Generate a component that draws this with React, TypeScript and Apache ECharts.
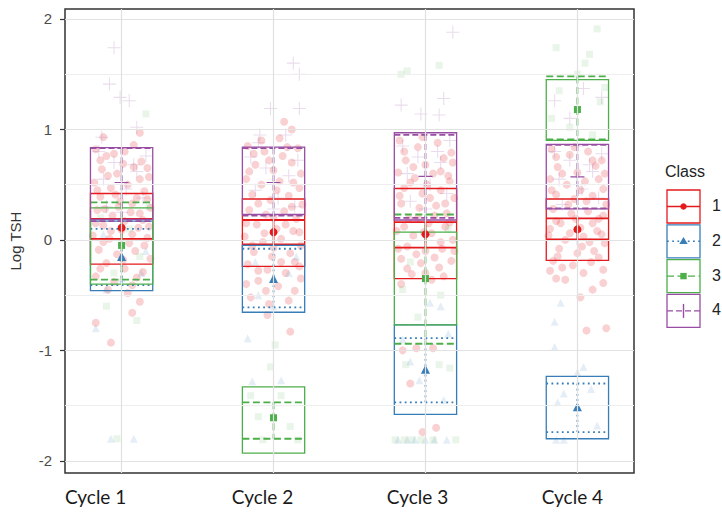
import React, { useEffect, useRef } from "react";
import * as echarts from "echarts";

// ---------- data ----------
const cycles = ["Cycle 1", "Cycle 2", "Cycle 3", "Cycle 4"];
const cyclePos = [1, 2, 3, 4];
const classNames = ["1", "2", "3", "4"];
const yTicks = [-2, -1, 0, 1, 2];
const yMinorGrid = [-1.5, -0.5, 0.5, 1.5];

// mean (marker), box (solid rect) and inner bar (class line type), per cycle
const class1Mean = [0.11, 0.07, 0.05, 0.095];
const class1BoxLo = [-0.22, -0.24, -0.35, -0.185];
const class1BoxHi = [0.42, 0.37, 0.465, 0.37];
const class1BarLo = [0.01, -0.04, -0.07, 0.005];
const class1BarHi = [0.19, 0.18, 0.16, 0.195];

const class2Mean = [-0.15, -0.35, -1.17, -1.51];
const class2BoxLo = [-0.46, -0.655, -1.58, -1.8];
const class2BoxHi = [0.17, -0.05, -0.77, -1.235];
const class2BarLo = [-0.41, -0.61, -1.47, -1.74];
const class2BarHi = [0.1, -0.08, -0.89, -1.3];

const class3Mean = [-0.05, -1.61, -0.35, 1.18];
const class3BoxLo = [-0.4, -1.93, -0.77, 0.9];
const class3BoxHi = [0.29, -1.33, 0.07, 1.45];
const class3BarLo = [-0.36, -1.8, -0.94, 0.91];
const class3BarHi = [0.34, -1.47, 0.23, 1.48];

const class4Mean = [0.52, 0.52, 0.575, 0.57];
const class4BoxLo = [0.186, 0.23, 0.18, 0.28];
const class4BoxHi = [0.836, 0.84, 0.97, 0.865];
const class4BarLo = [0.17, 0.22, 0.2, 0.285];
const class4BarHi = [0.83, 0.83, 0.95, 0.86];

// jittered individual observations [x, logTSH]
const class1Points = [
  [0.83,0.82],[0.9,0.76],[1.02,0.8],[1.13,0.71],[0.87,0.64],[0.97,0.6],[1.08,0.66],[1.18,0.57],[0.82,0.52],[0.93,0.47],[1.04,0.5],[1.15,0.44],[0.86,0.39],[0.99,0.35],[1.1,0.38],[1.19,0.29],[0.84,0.27],[0.94,0.22],[1.06,0.25],[1.14,0.18],[0.88,0.13],[1.0,0.09],[1.11,0.11],[0.81,0.04],[0.92,0.01],[1.05,-0.03],[1.17,0.02],[0.85,-0.09],[0.97,-0.13],[1.09,-0.1],[1.19,-0.17],[0.9,-0.21],[1.02,-0.26],[1.14,-0.29],[0.83,-0.33],[0.95,-0.38],[1.07,-0.41],[0.88,0.93],[1.12,0.97],[0.83,-0.75],[0.93,-0.93],[1.07,-0.66],[1.12,-0.56],[1.04,-0.48],
  [0.86,0.72],[0.95,0.78],[1.08,0.86],[1.17,0.65],[0.91,0.58],[1.01,0.69],[1.12,0.55],[0.84,0.45],[0.96,0.41],[1.07,0.33],[1.17,0.37],[0.89,0.28],[1.02,0.17],[1.12,0.24],[0.83,0.15],[0.93,0.08],[1.07,0.05],[1.15,-0.05],[0.88,-0.02],[1.01,-0.18],[1.1,-0.34],[0.86,-0.26],[0.98,0.3],[1.18,0.12],[0.91,-0.45],
  [1.83,0.85],[1.94,0.8],[2.06,0.76],[2.16,0.83],[1.88,0.68],[2.0,0.63],[2.12,0.7],[1.82,0.55],[1.92,0.5],[2.04,0.53],[2.17,0.47],[1.86,0.41],[1.98,0.36],[2.1,0.4],[2.19,0.32],[1.84,0.27],[1.95,0.23],[2.07,0.26],[2.15,0.19],[1.89,0.14],[2.02,0.1],[2.13,0.08],[1.81,0.03],[1.93,-0.02],[2.05,0.01],[2.18,-0.05],[1.87,-0.11],[1.99,-0.15],[2.11,-0.12],[1.83,-0.22],[1.96,-0.27],[2.08,-0.3],[2.17,-0.24],[1.9,-0.37],[2.03,-0.42],[2.14,-0.46],[1.85,-0.52],[1.97,-0.58],[2.07,1.07],[1.96,-0.68],[2.11,-0.83],[2.12,1.0],
  [1.87,0.78],[1.97,0.72],[2.09,0.84],[2.18,0.6],[1.84,0.62],[2.02,0.45],[2.13,0.52],[1.9,0.33],[2.0,0.2],[2.12,0.3],[1.82,0.15],[1.94,0.06],[2.08,0.14],[2.17,0.07],[1.86,-0.05],[2.0,-0.07],[2.14,-0.2],[1.9,-0.28],[2.05,-0.2],[1.82,-0.4],[1.95,-0.46],[2.1,-0.55],[2.18,-0.35],[2.04,0.92],[1.92,0.9],
  [2.83,0.9],[2.95,0.84],[3.08,0.88],[3.17,0.79],[2.87,0.72],[3.0,0.68],[3.12,0.74],[2.82,0.61],[2.93,0.56],[3.05,0.6],[3.16,0.53],[2.86,0.47],[2.98,0.42],[3.1,0.45],[3.19,0.38],[2.84,0.33],[2.96,0.29],[3.07,0.31],[3.14,0.24],[2.89,0.19],[3.02,0.15],[3.13,0.12],[2.81,0.08],[2.92,0.04],[3.04,0.06],[3.18,0.0],[2.88,-0.06],[3.0,-0.1],[3.11,-0.08],[2.84,-0.17],[2.97,-0.21],[3.09,-0.25],[3.17,-0.19],[2.91,-0.31],[3.04,-0.36],[2.85,-1.0],[2.94,-0.98],[3.05,-0.98],[2.9,-1.3],[2.98,-1.74],[3.07,-1.7],
  [2.86,0.8],[2.98,0.93],[3.1,0.62],[3.18,0.7],[2.9,0.52],[3.01,0.5],[3.13,0.33],[2.83,0.4],[2.95,0.2],[3.06,0.22],[3.16,0.16],[2.86,0.12],[2.99,0.07],[3.1,-0.02],[2.82,-0.08],[2.94,-0.13],[3.06,-0.16],[3.19,-0.1],[2.88,-0.26],[3.0,-0.3],[3.12,-0.33],[2.84,-0.4],[3.15,0.58],[2.92,0.66],[3.03,0.38],
  [3.83,0.82],[3.95,0.77],[4.07,0.8],[4.16,0.72],[3.87,0.66],[4.0,0.61],[4.12,0.67],[3.82,0.55],[3.93,0.5],[4.05,0.53],[4.17,0.46],[3.86,0.41],[3.98,0.37],[4.1,0.4],[4.19,0.32],[3.84,0.28],[3.96,0.24],[4.07,0.26],[4.14,0.19],[3.89,0.15],[4.02,0.11],[4.13,0.08],[3.81,0.04],[3.92,0.0],[4.04,0.03],[4.18,-0.03],[3.88,-0.08],[4.0,-0.12],[4.11,-0.1],[3.84,-0.19],[3.97,-0.23],[4.09,-0.2],[4.17,-0.27],[3.82,-0.28],[3.92,-0.36],[4.02,-0.52],[4.17,-0.39],[4.06,-0.82],[4.19,-0.8],
  [3.86,0.75],[3.98,0.84],[4.1,0.72],[4.18,0.6],[3.9,0.6],[4.02,0.45],[4.14,0.55],[3.83,0.45],[3.94,0.32],[4.06,0.35],[4.17,0.22],[3.86,0.17],[3.99,0.19],[4.1,0.15],[3.82,0.1],[3.95,0.06],[4.08,-0.02],[4.16,0.05],[3.87,-0.15],[4.03,-0.06],[4.14,-0.16],[3.9,-0.25],[4.04,-0.3],[3.86,-0.35],[4.1,-0.45]
];
const class2Points = [
  [0.93,-1.8],[1.08,-1.8],[0.83,-0.8],[1.13,-0.3],[0.88,0.05],[1.0,-0.35],[0.9,-0.45],[1.16,-0.1],
  [1.83,-0.89],[1.86,-1.28],[2.05,-1.27],[1.9,-0.5],[2.1,-0.3],[2.0,-0.6],[2.15,-0.15],[1.88,-0.2],
  [2.82,-1.81],[2.88,-1.81],[2.93,-1.81],[3.0,-1.81],[3.06,-1.81],[3.14,-1.81],[2.96,-1.27],[3.15,-0.85],[3.03,-0.57],[3.1,-0.6],[2.85,-0.9],[3.12,-1.45],[2.9,-1.1],
  [3.89,-0.57],[3.85,-0.74],[3.85,-0.97],[4.04,-1.15],[3.87,-1.47],[4.13,-1.68],[3.91,-1.39],[4.09,-1.35],[3.86,-1.81],[3.91,-1.81],[4.0,-1.2]
];
const class3Points = [
  [1.16,1.14],[1.1,-0.73],[0.97,-1.8],[0.86,0.2],[1.12,-0.15],[0.95,-0.3],[1.05,0.1],[0.9,-0.6],[1.18,0.3],
  [2.01,-0.95],[1.98,-1.15],[1.85,-1.41],[2.05,-1.41],[2.11,-1.69],[1.93,-1.81],[2.16,-1.81],[1.9,-1.6],
  [2.88,1.53],[3.09,1.58],[2.84,1.5],[2.87,-1.13],[3.09,-1.13],[3.16,-1.16],[2.8,-1.81],[2.86,-1.81],[2.91,-1.81],[2.97,-1.81],[3.05,-1.81],[3.2,-1.81],[2.9,-0.2],[3.1,-0.5],[2.95,-0.7],[3.15,0.1],[2.85,-0.45],
  [4.13,1.91],[3.86,1.74],[4.08,1.68],[4.05,1.6],[3.88,1.35],[4.15,1.25],[3.95,1.02],[4.1,0.95],[4.18,1.38],[3.83,1.1],[4.0,1.5]
];
const class4Points = [
  [0.95,1.74],[0.92,1.41],[0.99,1.29],[1.05,1.26],[0.87,0.93],[1.1,1.02],[0.85,0.8],[0.95,0.7],[1.1,0.62],[1.16,0.76],[0.88,0.55],[1.03,0.46],[1.14,0.38],[0.9,0.3],[1.0,0.25],[1.08,0.68],
  [2.13,1.6],[2.17,1.5],[1.98,1.19],[2.17,1.19],[1.91,0.95],[2.08,0.95],[1.85,0.75],[1.95,0.65],[2.1,0.58],[2.16,0.72],[1.88,0.45],[2.03,0.38],[2.14,0.3],[1.9,0.88],[2.0,0.28],
  [3.18,1.88],[2.84,1.22],[2.97,1.14],[3.09,1.13],[3.12,1.28],[2.85,0.85],[2.95,0.75],[3.1,0.7],[3.16,0.9],[2.88,0.6],[3.03,0.5],[3.14,0.42],[2.9,0.35],[3.0,0.28],[3.08,0.8],
  [3.85,1.26],[4.04,1.37],[4.16,1.29],[3.95,1.1],[3.85,0.8],[3.95,0.72],[4.1,0.62],[4.16,0.78],[3.88,0.55],[4.03,0.46],[4.14,0.38],[3.9,0.32],[4.0,0.85],[4.08,0.68]
];

// ---------- styling ----------
const COLORS = ["#E41A1C", "#377EB8", "#4DAF4A", "#984EA3"];
const DASHES: (number[] | null)[] = [null, [1.8, 3.4], [7, 3.5], [6, 3]];
const CROSS = "path://M-0.08,-1 L0.08,-1 L0.08,-0.08 L1,-0.08 L1,0.08 L0.08,0.08 L0.08,1 L-0.08,1 L-0.08,0.08 L-1,0.08 L-1,-0.08 L-0.08,-0.08 Z";
const SYMBOLS = ["circle", "triangle", "rect", CROSS];
const MEAN_SIZES = [8, 9, 7, 14];
const PT_SIZES = [8, 8, 7, 13];
const PT_OPACITY = [0.2, 0.13, 0.13, 0.2];
const BOX_HALF = 0.205;

const means = [class1Mean, class2Mean, class3Mean, class4Mean];
const boxLo = [class1BoxLo, class2BoxLo, class3BoxLo, class4BoxLo];
const boxHi = [class1BoxHi, class2BoxHi, class3BoxHi, class4BoxHi];
const barLo = [class1BarLo, class2BarLo, class3BarLo, class4BarLo];
const barHi = [class1BarHi, class2BarHi, class3BarHi, class4BarHi];
const points = [class1Points, class2Points, class3Points, class4Points];

const LABEL_SHIFT = [52, 22, 16, 10];

function legendGraphics() {
  const els: any[] = [
    { type: "text", left: 665, top: 163, style: { text: "Class", fontSize: 16, fontFamily: "Liberation Sans", fill: "#222" } },
  ];
  classNames.forEach((name, k) => {
    const x = 667, w = 33, h = 33;
    const y = 190 + k * 34.8;
    const cy = y + h / 2, cx = x + w / 2;
    const c = COLORS[k];
    els.push({ type: "rect", shape: { x, y, width: w, height: h }, style: { fill: "none", stroke: c, lineWidth: 1.3 } });
    els.push({ type: "line", shape: { x1: x, y1: cy, x2: x + w, y2: cy }, style: { stroke: c, lineWidth: 1.4, lineDash: DASHES[k] || undefined } });
    if (k === 0) els.push({ type: "circle", shape: { cx, cy, r: 3.2 }, style: { fill: c } });
    if (k === 1) els.push({ type: "polygon", shape: { points: [[cx, cy - 4.2], [cx + 4.2, cy + 2.8], [cx - 4.2, cy + 2.8]] }, style: { fill: c } });
    if (k === 2) els.push({ type: "rect", shape: { x: cx - 3.2, y: cy - 3.2, width: 6.4, height: 6.4 }, style: { fill: c } });
    if (k === 3) els.push({ type: "line", shape: { x1: cx, y1: cy - 7, x2: cx, y2: cy + 7 }, style: { stroke: c, lineWidth: 1.4 } });
    els.push({ type: "text", left: 712, top: cy - 9, style: { text: name, fontSize: 16, fontFamily: "Liberation Sans", fill: "#222" } });
  });
  return els;
}

export default function App() {
  const ref = useRef<HTMLDivElement>(null);
  useEffect(() => {
    if (!ref.current) return;
    const chart = echarts.init(ref.current, null, { renderer: "svg" });
    const series: any[] = [];
    // grid lines
    series.push({
      type: "scatter",
      data: [],
      z: 0,
      silent: true,
      markLine: {
        silent: true,
        symbol: ["none", "none"],
        label: { show: false },
        animation: false,
        data: [
          ...yMinorGrid.map((v) => ({ yAxis: v, lineStyle: { color: "#eeeeee", width: 1, type: "solid" } })),
          ...yTicks.map((v) => ({ yAxis: v, lineStyle: { color: "#e2e2e2", width: 1.2, type: "solid" } })),
          ...cyclePos.map((v) => ({ xAxis: v, lineStyle: { color: "#e0e0e0", width: 1.2, type: "solid" } })),
        ],
      },
    });
    // jittered points
    points.forEach((pts, k) => {
      series.push({
        type: "scatter",
        name: classNames[k],
        z: 2,
        silent: true,
        symbol: SYMBOLS[k],
        symbolSize: PT_SIZES[k],
        itemStyle: { color: COLORS[k], opacity: PT_OPACITY[k] },
        data: pts,
      });
    });
    // boxes + bars
    means.forEach((m, k) => {
      series.push({
        type: "custom",
        z: 3,
        silent: true,
        renderItem: (params: any, api: any) => {
          const x = api.value(0);
          const tl = api.coord([x - BOX_HALF, api.value(3)]);
          const br = api.coord([x + BOX_HALF, api.value(2)]);
          const eTop = api.coord([x, api.value(5)]);
          const eBot = api.coord([x, api.value(4)]);
          const boxStyle = { stroke: COLORS[k], fill: "none", lineWidth: 1.3 };
          const barStyle: any = { stroke: COLORS[k], fill: "none", lineWidth: 1.8 };
          if (DASHES[k]) barStyle.lineDash = DASHES[k];
          return {
            type: "group",
            children: [
              { type: "rect", shape: { x: tl[0], y: tl[1], width: br[0] - tl[0], height: br[1] - tl[1] }, style: boxStyle },
              { type: "line", shape: { x1: tl[0], y1: eTop[1], x2: br[0], y2: eTop[1] }, style: barStyle },
              { type: "line", shape: { x1: tl[0], y1: eBot[1], x2: br[0], y2: eBot[1] }, style: barStyle },
              { type: "line", shape: { x1: eTop[0], y1: eTop[1], x2: eBot[0], y2: eBot[1] }, style: barStyle },
            ],
          };
        },
        encode: { x: 0, y: [1, 2, 3, 4, 5] },
        data: cyclePos.map((p, i) => [p, m[i], boxLo[k][i], boxHi[k][i], barLo[k][i], barHi[k][i]]),
      });
    });
    // mean markers
    means.forEach((m, k) => {
      series.push({
        type: "scatter",
        z: 4,
        silent: true,
        symbol: SYMBOLS[k],
        symbolSize: MEAN_SIZES[k],
        itemStyle: { color: COLORS[k], opacity: 1 },
        data: cyclePos.map((p, i) => [p, m[i]]),
      });
    });

    chart.setOption({
      animation: false,
      backgroundColor: "#ffffff",
      grid: { left: 64, top: 9, width: 570, height: 464, show: true, borderColor: "#333", borderWidth: 1.5, backgroundColor: "#fff" },
      xAxis: {
        type: "value",
        min: 0.6275,
        max: 4.3725,
        axisLine: { show: false },
        splitLine: { show: false },
        axisTick: { show: true, customValues: cyclePos, length: 5, lineStyle: { color: "#333", width: 1.2 } },
        axisLabel: {
          customValues: cyclePos,
          margin: 14,
          formatter: (v: number) => {
            const i = cyclePos.indexOf(Math.round(v));
            return i < 0 ? "" : `{c${i}|${cycles[i]}}`;
          },
          rich: Object.fromEntries(cycles.map((c, i) => [`c${i}`, { fontSize: 19, fontFamily: "Lato", color: "#1a1a1a", padding: [0, LABEL_SHIFT[i], 0, 0] }])),
        },
      },
      yAxis: {
        type: "value",
        min: -2.11,
        max: 2.09,
        name: "Log TSH",
        nameLocation: "middle",
        nameGap: 42,
        nameTextStyle: { fontSize: 15, fontFamily: "Liberation Sans", color: "#333" },
        axisLine: { show: false },
        splitLine: { show: false },
        axisTick: { show: true, customValues: yTicks, length: 5, lineStyle: { color: "#333", width: 1.2 } },
        axisLabel: { customValues: yTicks, margin: 13, fontSize: 15, fontFamily: "Liberation Sans", color: "#4d4d4d" },
      },
      graphic: legendGraphics(),
      series,
    });
    return () => chart.dispose();
  }, []);
  return <div ref={ref} style={{ position: "absolute", left: 0, top: 0, width: 722, height: 522 }} />;
}
